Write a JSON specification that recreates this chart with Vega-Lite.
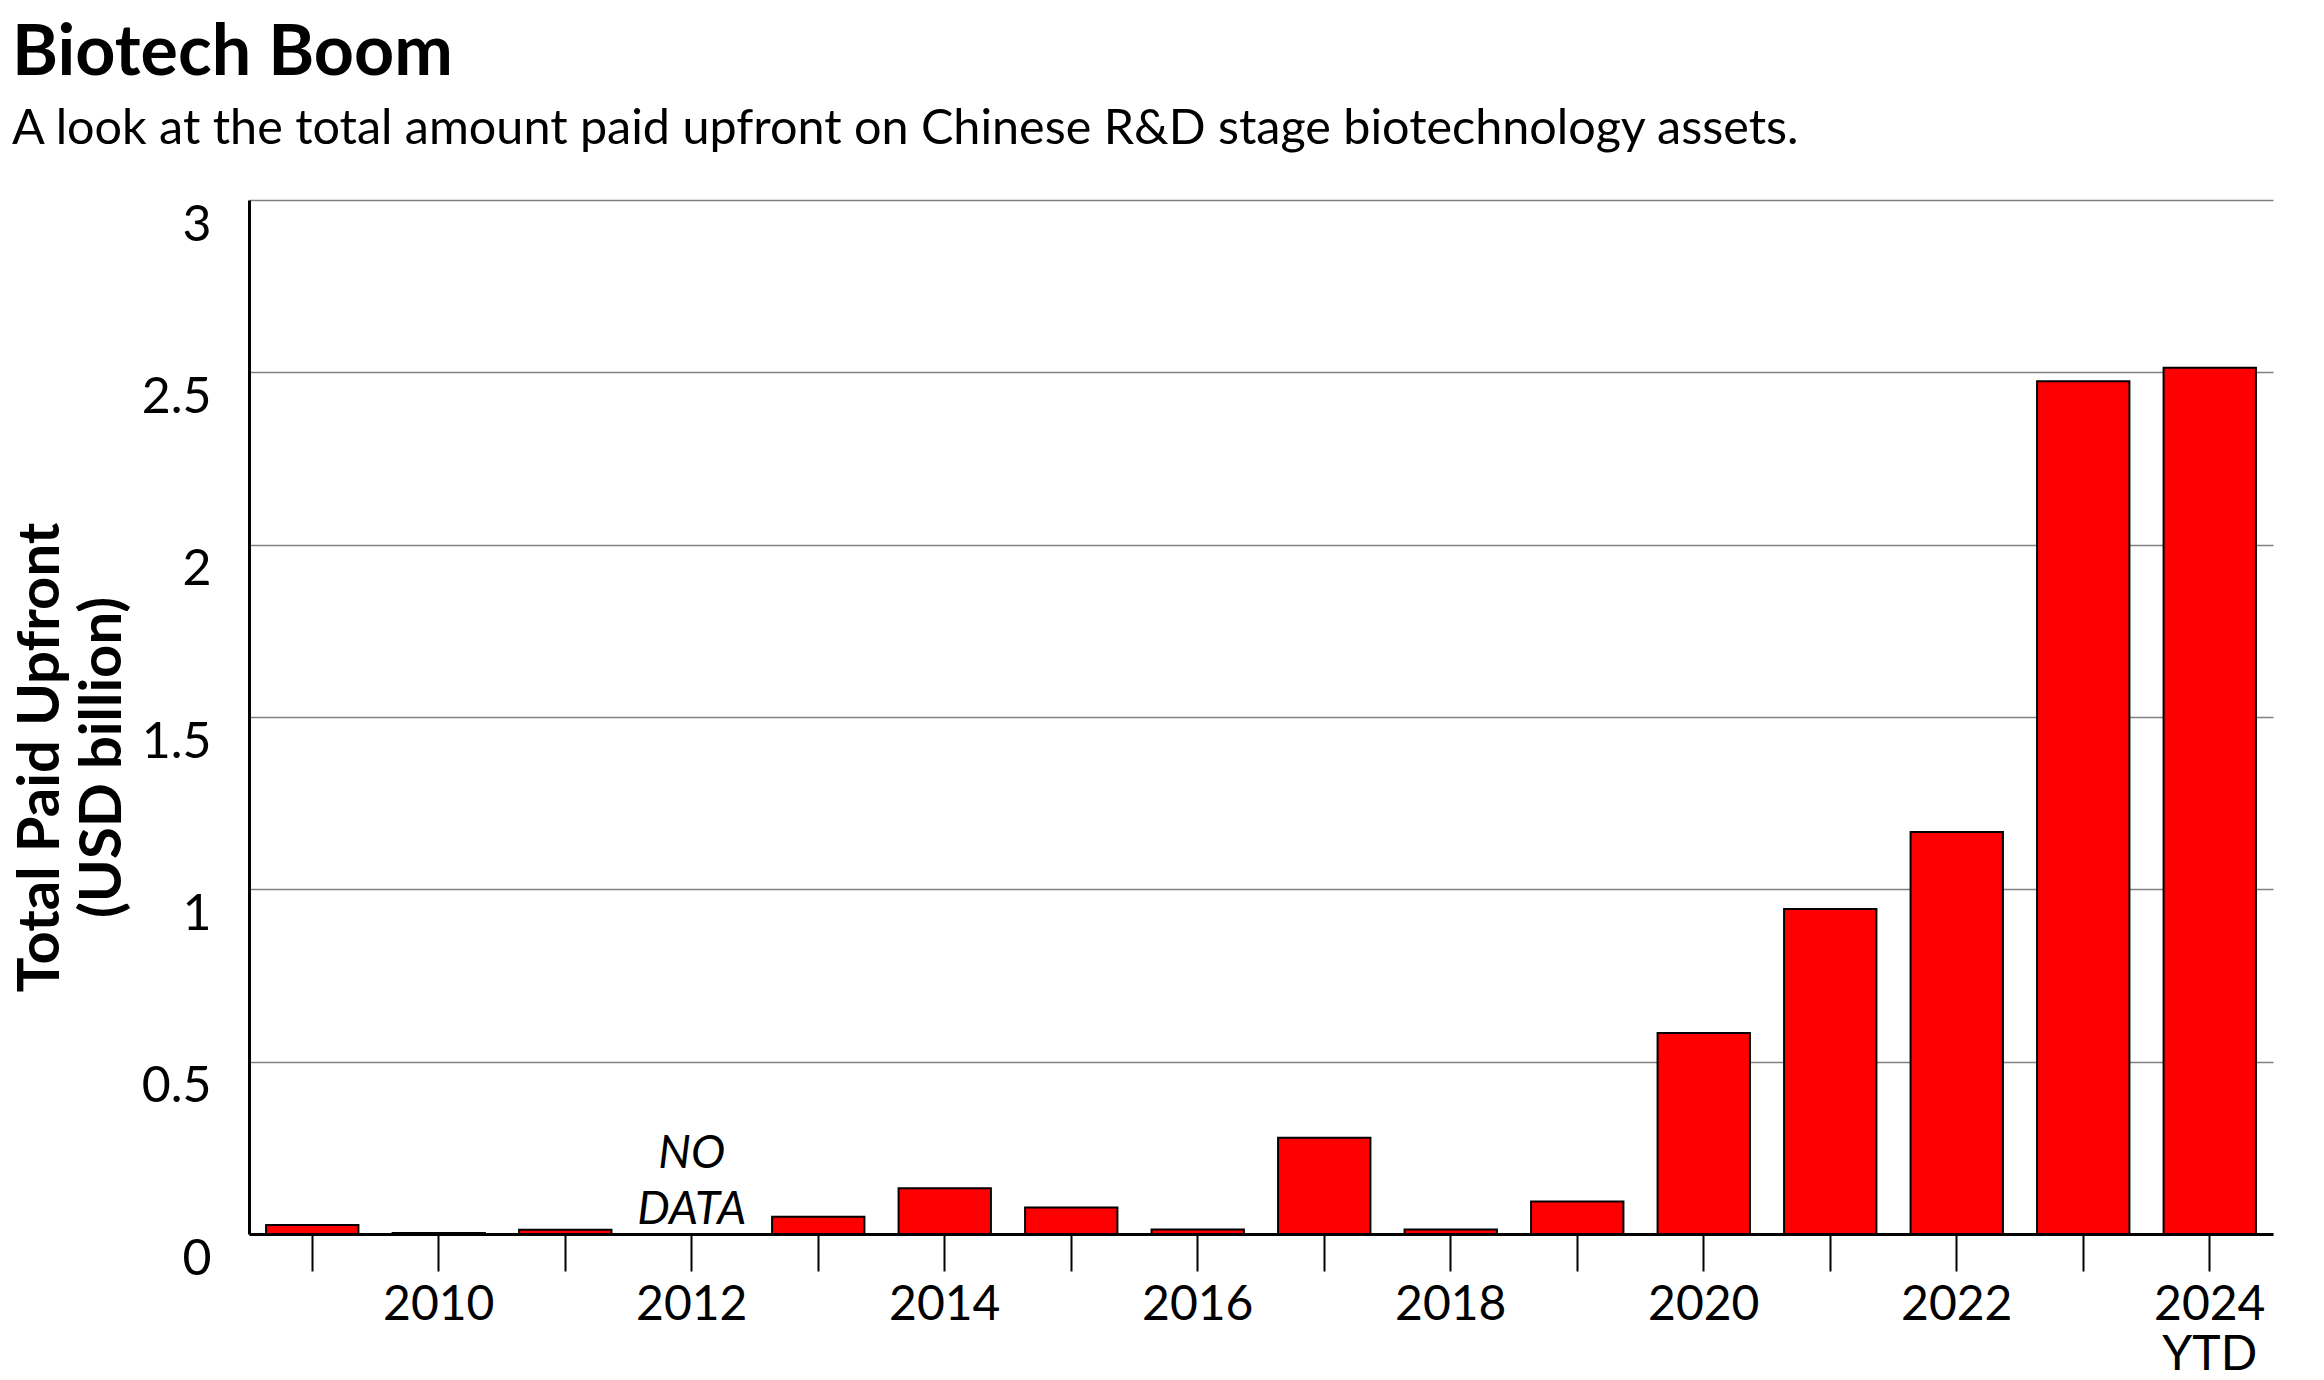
{
  "$schema": "https://vega.github.io/schema/vega-lite/v6.json",
  "width": 2024,
  "height": 1034,
  "padding": {"left": 12, "top": 18, "right": 40, "bottom": 5},
  "background": "white",
  "title": {
    "text": "Biotech Boom",
    "subtitle": "A look at the total amount paid upfront on Chinese R&D stage biotechnology assets.",
    "anchor": "start",
    "frame": "bounds",
    "font": "Lato",
    "fontSize": 70,
    "fontWeight": "bold",
    "color": "black",
    "subtitleFont": "Lato",
    "subtitleFontSize": 48.5,
    "subtitleColor": "black",
    "subtitlePadding": 16,
    "offset": 46
  },
  "config": {"view": {"stroke": null}, "font": "Lato"},
  "layer": [
    {
      "data": {
        "values": [
          {"year": "2009", "value": 0.026},
          {"year": "2010", "value": 0.003},
          {"year": "2011", "value": 0.012},
          {"year": "2013", "value": 0.05},
          {"year": "2014", "value": 0.133},
          {"year": "2015", "value": 0.077},
          {"year": "2016", "value": 0.013},
          {"year": "2017", "value": 0.279},
          {"year": "2018", "value": 0.013},
          {"year": "2019", "value": 0.094},
          {"year": "2020", "value": 0.583},
          {"year": "2021", "value": 0.943},
          {"year": "2022", "value": 1.166},
          {"year": "2023", "value": 2.474},
          {"year": "2024", "value": 2.513}
        ]
      },
      "mark": {"type": "bar", "fill": "#ff0000", "stroke": "black", "strokeWidth": 2},
      "encoding": {
        "x": {
          "field": "year",
          "type": "ordinal",
          "scale": {
            "domain": ["2009","2010","2011","2012","2013","2014","2015","2016","2017","2018","2019","2020","2021","2022","2023","2024"],
            "paddingInner": 0.27,
            "paddingOuter": 0.135
          },
          "axis": {
            "title": null,
            "labelExpr": "toNumber(datum.value) % 2 == 0 ? (datum.value == '2024' ? ['2024', 'YTD'] : datum.value) : ''",
            "labelAngle": 0,
            "labelFont": "Lato",
            "labelFontSize": 48,
            "labelColor": "black",
            "labelPadding": 10,
            "labelLineHeight": 50,
            "labelBaseline": "top",
            "tickSize": 37,
            "tickColor": "black",
            "tickWidth": 2,
            "domainColor": "black",
            "domainWidth": 3,
            "grid": false,
            "zindex": 1
          }
        },
        "y": {
          "field": "value",
          "type": "quantitative",
          "scale": {"domain": [0, 3], "nice": false},
          "axis": {
            "values": [0, 0.5, 1, 1.5, 2, 2.5, 3],
            "labelExpr": "toString(datum.value)",
            "title": ["Total Paid Upfront", "(USD billion)"],
            "titleFont": "Lato",
            "titleFontSize": 58,
            "titleFontWeight": "bold",
            "titleColor": "black",
            "titleLineHeight": 62,
            "titleAngle": -90,
            "titleAlign": "center",
            "titleBaseline": "middle",
            "titleX": -208,
            "titleY": 557,
            "labelFont": "Lato",
            "labelFontSize": 50,
            "labelColor": "black",
            "labelBaseline": "top",
            "labelPadding": 38,
            "ticks": false,
            "domainColor": "black",
            "domainWidth": 3,
            "grid": true,
            "gridColor": "#808080",
            "gridWidth": 1.5
          }
        }
      }
    },
    {
      "data": {"values": [{"year": "2012", "note": "NO DATA"}]},
      "mark": {
        "type": "text",
        "font": "Lato",
        "fontStyle": "italic",
        "fontSize": 46,
        "lineBreak": " ",
        "lineHeight": 56,
        "baseline": "bottom",
        "align": "center",
        "dy": -56,
        "color": "black"
      },
      "encoding": {
        "x": {"field": "year", "type": "ordinal"},
        "y": {"datum": 0},
        "text": {"field": "note"}
      }
    }
  ]
}
